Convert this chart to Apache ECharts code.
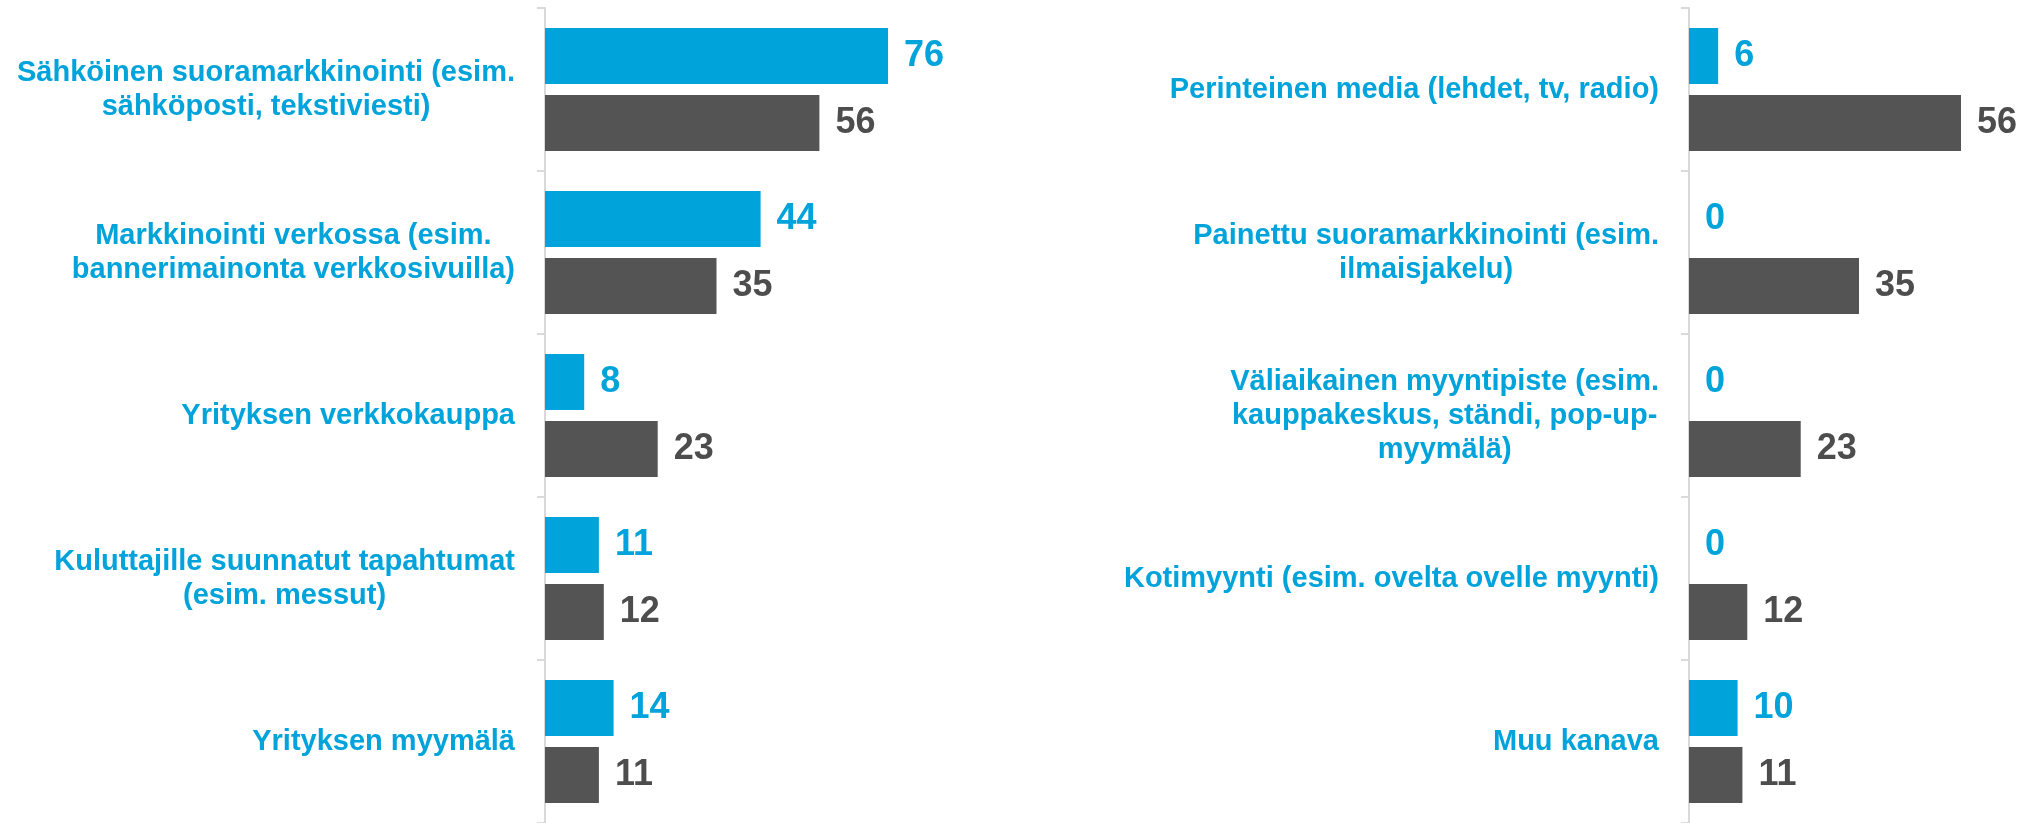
<!DOCTYPE html>
<html>
<head>
<meta charset="utf-8">
<script src="https://cdn.jsdelivr.net/npm/echarts@6/dist/echarts.min.js"></script>
<style>
  html, body { margin: 0; padding: 0; background: #ffffff; }
  #chart { width: 2029px; height: 823px; }
</style>
</head>
<body>
<div id="chart"></div>
<script>
// Channel labels, one entry per category band (top to bottom)
const leftCategories = [
  'Sähköinen suoramarkkinointi (esim.\nsähköposti, tekstiviesti)',
  'Markkinointi verkossa (esim.\nbannerimainonta verkkosivuilla)',
  'Yrityksen verkkokauppa',
  'Kuluttajille suunnatut tapahtumat\n(esim. messut)',
  'Yrityksen myymälä'
];
const rightCategories = [
  'Perinteinen media (lehdet, tv, radio)',
  'Painettu suoramarkkinointi (esim.\nilmaisjakelu)',
  'Väliaikainen myyntipiste (esim.\nkauppakeskus, ständi, pop-up-\nmyymälä)',
  'Kotimyynti (esim. ovelta ovelle myynti)',
  'Muu kanava'
];

// Values for the two groups
const leftBlue  = [76, 44, 8, 11, 14];
const leftGrey  = [56, 35, 23, 12, 11];
const rightBlue = [6, 0, 0, 0, 10];
const rightGrey = [56, 35, 23, 12, 11];

const BLUE = '#00A3DA';
const GREY = '#545454';
const GREY_TEXT = '#4D4D4D';
const AXIS = '#D9D9D9';
const FONT = '"Liberation Sans", Arial, sans-serif';

const chart = echarts.init(document.getElementById('chart'), null, { renderer: 'canvas' });

// Multi-line category labels: each line centred inside the block, block right-aligned to the axis
function categoryLabel(value) {
  return value.split('\n').map(l => '{c|' + l + '}').join('\n');
}

function yAxisFor(gridIndex, cats) {
  return {
    type: 'category',
    gridIndex: gridIndex,
    data: cats,
    inverse: true,
    boundaryGap: true,
    axisLine: { show: true, lineStyle: { color: AXIS, width: 2 } },
    axisTick: { show: true, length: 8, lineStyle: { color: AXIS, width: 2 } },
    splitLine: { show: false },
    axisLabel: {
      margin: 30,
      align: 'right',
      formatter: categoryLabel,
      rich: {
        c: {
          align: 'center',
          color: BLUE,
          fontSize: 29,
          fontWeight: 'bold',
          fontFamily: FONT,
          lineHeight: 34
        }
      }
    }
  };
}

function xAxisFor(gridIndex) {
  return {
    type: 'value',
    gridIndex: gridIndex,
    min: 0,
    max: 70,
    show: false
  };
}

function barSeries(name, gridIndex, data, color, textColor) {
  return {
    name: name,
    type: 'bar',
    xAxisIndex: gridIndex,
    yAxisIndex: gridIndex,
    data: data,
    barWidth: 56,
    barGap: '20%',
    itemStyle: { color: color },
    label: {
      show: true,
      position: 'right',
      distance: 16,
      color: textColor,
      fontSize: 36,
      fontWeight: 'bold',
      fontFamily: FONT
    },
    animation: false
  };
}

const option = {
  backgroundColor: '#ffffff',
  animation: false,
  grid: [
    { left: 545, top: 8, width: 343, height: 820 },
    { left: 1689, top: 8, width: 343, height: 820 }
  ],
  xAxis: [xAxisFor(0), xAxisFor(1)],
  yAxis: [yAxisFor(0, leftCategories), yAxisFor(1, rightCategories)],
  series: [
    barSeries('Ryhmä 1', 0, leftBlue, BLUE, BLUE),
    barSeries('Ryhmä 2', 0, leftGrey, GREY, GREY_TEXT),
    barSeries('Ryhmä 1', 1, rightBlue, BLUE, BLUE),
    barSeries('Ryhmä 2', 1, rightGrey, GREY, GREY_TEXT)
  ]
};

chart.setOption(option);
</script>
</body>
</html>
